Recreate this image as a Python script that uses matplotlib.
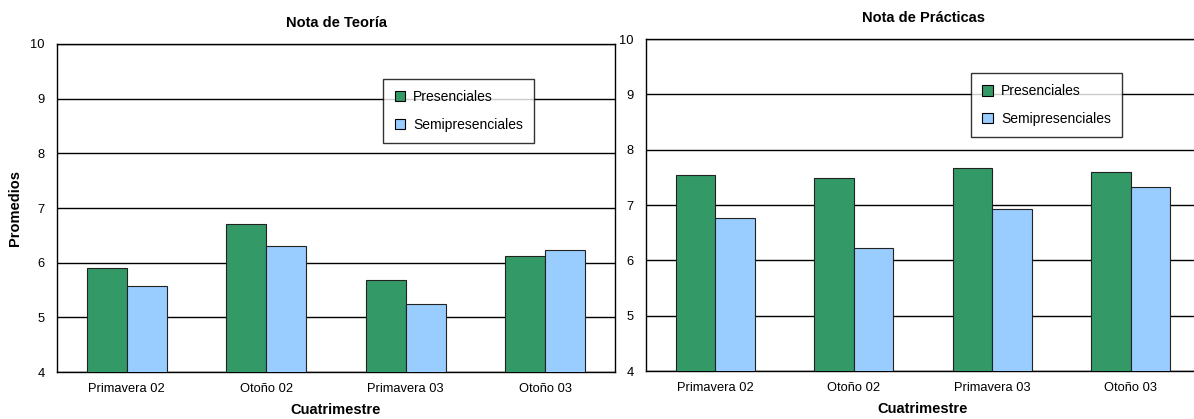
import matplotlib
matplotlib.use("Agg")
import matplotlib.pyplot as plt
import numpy as np

plt.rcParams['font.family'] = ['Liberation Sans', 'DejaVu Sans']

cuatrimestres = ["Primavera 02", "Otoño 02", "Primavera 03", "Otoño 03"]
teoria_presenciales = [5.91, 6.70, 5.69, 6.13]
teoria_semipresenciales = [5.57, 6.30, 5.24, 6.23]
practicas_presenciales = [7.54, 7.48, 7.66, 7.60]
practicas_semipresenciales = [6.77, 6.23, 6.93, 7.33]

green = "#339966"
light_blue = "#99ccff"

W, H = 1194, 419
fig = plt.figure(figsize=(W / 100, H / 100), dpi=100)


def px_axes(left, top, right, bottom):
    return fig.add_axes([left / W, 1 - bottom / H, (right - left) / W, (bottom - top) / H])


def draw_panel(ax, title, pres, semi, legend_pos, title_pad):
    x = np.arange(len(cuatrimestres))
    w = 0.285
    ax.bar(x - w / 2, pres, w, color=green, edgecolor="#222222",
           linewidth=0.8, zorder=3, label="Presenciales")
    ax.bar(x + w / 2, semi, w, color=light_blue, edgecolor="#222222",
           linewidth=0.8, zorder=3, label="Semipresenciales")
    ax.set_xlim(-0.5, len(cuatrimestres) - 0.5)
    ax.set_ylim(4, 10)
    ax.set_yticks(range(4, 11))
    ax.yaxis.grid(True, color="black", linewidth=1, zorder=0)
    ax.set_axisbelow(True)
    ax.set_xticks(x)
    ax.set_xticklabels(cuatrimestres)
    ax.tick_params(axis="both", length=0, labelsize=9.3)
    ax.tick_params(axis="x", pad=8)
    ax.tick_params(axis="y", pad=9)
    for s in ax.spines.values():
        s.set_color("black")
        s.set_linewidth(1)
    ax.set_title(title, fontsize=10.5, fontweight="bold", pad=title_pad)
    ax.set_xlabel("Cuatrimestre", fontsize=10.5, fontweight="bold", labelpad=6)
    leg = ax.legend(loc="upper left", bbox_to_anchor=legend_pos, fontsize=10,
                    frameon=True, fancybox=False, edgecolor="black",
                    handlelength=0.75, handleheight=0.75, handletextpad=0.6,
                    labelspacing=1.0, borderpad=0.8, borderaxespad=0)
    leg.get_frame().set_linewidth(1)
    leg.set_zorder(5)
    for h in leg.legend_handles:
        h.set_edgecolor("black")


ax1 = px_axes(57, 44, 615, 372)
draw_panel(ax1, "Nota de Teoría", teoria_presenciales, teoria_semipresenciales, (0.585, 0.894), 12)
ax1.set_ylabel("Promedios", fontsize=10.5, fontweight="bold")
ax1.yaxis.set_label_coords(-0.062, 0.5)

ax2 = px_axes(646, 39, 1200, 371)
draw_panel(ax2, "Nota de Prácticas", practicas_presenciales, practicas_semipresenciales, (0.587, 0.897), 12)

fig.savefig("out.png", dpi=100)
